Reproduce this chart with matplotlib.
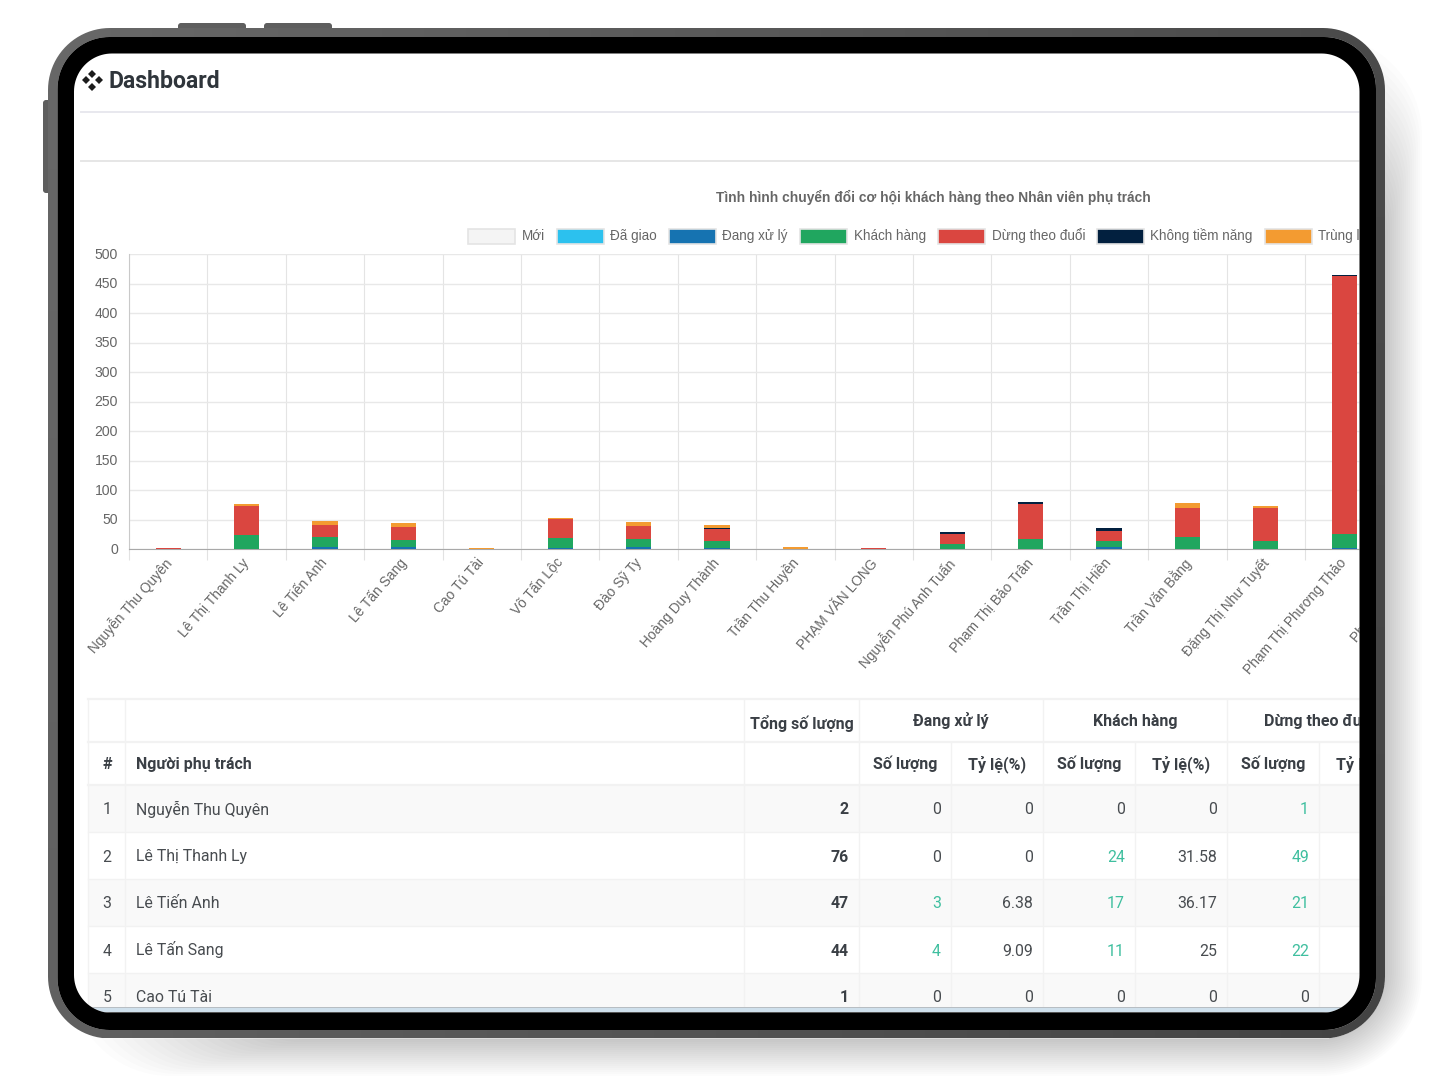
import numpy as np
import matplotlib
matplotlib.use("Agg")
import matplotlib.pyplot as plt
from matplotlib.colors import LinearSegmentedColormap
from matplotlib.patches import PathPatch, Rectangle
from matplotlib.path import Path
from matplotlib.transforms import ScaledTranslation

# Chart data
names = ["Nguyễn Thu Quyên", "Lê Thị Thanh Ly", "Lê Tiến Anh", "Lê Tấn Sang", "Cao Tú Tài",
         "Võ Tấn Lộc", "Đào Sỹ Ty", "Hoàng Duy Thành", "Trần Thu Huyền", "PHẠM VĂN LONG",
         "Nguyễn Phú Anh Tuấn", "Phạm Thị Bảo Trân", "Trần Thị Hiền", "Trần Văn Bằng",
         "Đặng Thị Như Tuyết", "Phạm Thị Phương Thảo", "Phạm Thị Hương"]
series_names = ["Mới", "Đã giao", "Đang xử lý", "Khách hàng", "Dừng theo đuổi", "Không tiềm năng", "Trùng lặp"]
series_colors = ["#f4f4f4", "#2cc1ee", "#1673b1", "#20a65f", "#da4640", "#02203f", "#f39b31"]
moi = [0] * 17
da_giao = [0] * 17
dang_xu_ly = [0, 0, 3, 4, 0, 2, 4, 1, 0, 0, 0, 0, 3, 0, 0, 1, 0]
khach_hang = [0, 24, 17, 11, 0, 17, 13, 12, 0, 0, 9, 17, 10, 20, 13, 24, 0]
dung_theo_duoi = [1, 49, 21, 22, 0, 32, 22, 21, 0, 1, 16, 59, 18, 49, 57, 437, 0]
khong_tiem_nang = [0, 0, 0, 0, 0, 0, 0, 2, 0, 0, 3, 3, 5, 0, 0, 2, 0]
trung = [1, 3, 6, 7, 1, 2, 6, 5, 3, 0, 1, 0, 0, 9, 3, 0, 0]
series_values = [moi, da_giao, dang_xu_ly, khach_hang, dung_theo_duoi, khong_tiem_nang, trung]
y_ticks = [0, 50, 100, 150, 200, 250, 300, 350, 400, 450, 500]

# Table data
table_names = ["Nguyễn Thu Quyên", "Lê Thị Thanh Ly", "Lê Tiến Anh", "Lê Tấn Sang", "Cao Tú Tài"]
table_total = ["2", "76", "47", "44", "1"]
table_xl_sl = ["0", "0", "3", "4", "0"]
table_xl_tl = ["0", "0", "6.38", "9.09", "0"]
table_kh_sl = ["0", "24", "17", "11", "0"]
table_kh_tl = ["0", "31.58", "36.17", "25", "0"]
table_dt_sl = ["1", "49", "21", "22", "0"]


def px(size):
    return size * 0.72


def round_rect(x0, y0, x1, y1, r, n=24):
    # polygon for a rounded rectangle
    t = np.linspace(0, np.pi / 2, n)
    pts = []
    for cx, cy, start in [(x0 + r, y0 + r, np.pi), (x1 - r, y0 + r, 1.5 * np.pi),
                          (x1 - r, y1 - r, 0), (x0 + r, y1 - r, 0.5 * np.pi)]:
        pts.append(np.column_stack([cx + r * np.cos(start + t), cy + r * np.sin(start + t)]))
    pts = np.vstack(pts)
    return np.vstack([pts, pts[0]])


def with_hole(outer, inner):
    return Path(np.vstack([outer, inner[::-1]]),
                [Path.MOVETO] + [Path.LINETO] * (len(outer) - 1) + [Path.MOVETO] + [Path.LINETO] * (len(inner) - 1))


W, H = 1436, 1080
fig = plt.figure(figsize=(W / 100, H / 100), dpi=100, facecolor="white")

# Page content, in pixel coordinates
page = fig.add_axes([0, 0, 1, 1], zorder=1)
page.set_xlim(0, W)
page.set_ylim(H, 0)
page.axis("off")
page.add_patch(Rectangle((0, 0), W, H, fc="white", ec="none"))

sans = "Liberation Sans"
rob = "Roboto"
page.plot([92, 98.5, 92, 85.5], [73.5, 80, 86.5, 80], ls="none", marker="D", ms=4.1, color="#1c1c1c", mew=0)
page.text(108, 88.5, "Dashboard", fontsize=px(23), family=rob, weight="bold", color="#2f353b", va="baseline")
page.plot([81, 1360], [111.5, 111.5], color="#e8e8ee", lw=1.4)
page.plot([81, 1360], [160.8, 160.8], color="#e6e6e6", lw=1.4)
page.text(933.5, 202, "Tình hình chuyển đổi cơ hội khách hàng theo Nhân viên phụ trách", fontsize=px(13.75),
          family=sans, weight="bold", color="#666666", ha="center", va="baseline")

# Legend
legend_x = [468, 557, 669, 800, 938, 1097, 1265]
for x, name, col in zip(legend_x, series_names, series_colors):
    page.add_patch(Rectangle((x, 228.5), 47, 15, fc=col, ec="#e4e4e4", lw=1.2))
    page.text(x + 53.5, 240, name, fontsize=px(13.5), family=sans, color="#666666", va="baseline")

# Table
col_x = [88, 125, 744, 859, 951, 1043, 1135, 1227, 1319, 1411]
row_y = [699, 742, 785, 832, 879, 926, 973, 1020]
line_col = "#f2f2f2"
for i in [0, 2, 4]:
    page.add_patch(Rectangle((88, row_y[i + 2]), 1330, row_y[i + 3] - row_y[i + 2], fc="#f9f9f9", ec="none"))
for y in row_y[:-1]:
    page.plot([88, 1411], [y, y], color=line_col, lw=1.6 if y in (699, 742, 785) else 1.0)
for x in col_x:
    if x in (951, 1135, 1319):
        page.plot([x, x], [742, 1020], color=line_col, lw=1.0)
    else:
        page.plot([x, x], [699, 1020], color=line_col, lw=1.0)

head = "#3a3f45"
body = "#484c50"
teal = "#3fbf9f"
for cx, cy, label in [(801.5, 728.5, "Tổng số lượng"), (951, 726, "Đang xử lý"), (1135, 726, "Khách hàng"),
                      (1319, 726, "Dừng theo đuổi"), (107, 769, "#"),
                      (905, 769, "Số lượng"), (997, 769, "Tỷ lệ(%)"), (1089, 769, "Số lượng"),
                      (1181, 769, "Tỷ lệ(%)"), (1273, 769, "Số lượng"), (1365, 769, "Tỷ lệ(%)")]:
    page.text(cx, cy, label, fontsize=px(16), family=rob, weight="bold", color=head, ha="center", va="baseline")
page.text(136, 769, "Người phụ trách", fontsize=px(16), family=rob, weight="bold", color=head, va="baseline")

rows_base = [814.5, 861.5, 908.5, 955.5, 1002.5]
for i, y in enumerate(rows_base):
    page.text(107, y, str(i + 1), fontsize=px(15.9), family=rob, color=body, ha="center", va="baseline")
    page.text(136, y, table_names[i], fontsize=px(15.9), family=rob, color=body, va="baseline")
    page.text(849, y, table_total[i], fontsize=px(15.9), family=rob, weight="bold", color=head, ha="right", va="baseline")
    for x, col, link in [(941, table_xl_sl, True), (1033, table_xl_tl, False), (1125, table_kh_sl, True),
                         (1217, table_kh_tl, False), (1309, table_dt_sl, True)]:
        c = teal if link and col[i] != "0" else body
        page.text(x, y, col[i], fontsize=px(15.9), family=rob, color=c, ha="right", va="baseline")

# scrollbar strip at the bottom of the screen
page.add_patch(Rectangle((74, 1006.5), 1286, 1.6, fc="#b8bec3", ec="none", zorder=5))
page.add_patch(Rectangle((74, 1008), 1286, 3.6, fc="#cfe0ec", ec="none", zorder=5))
page.add_patch(Rectangle((74, 1011.6), 1286, 2, fc="#555555", ec="none", zorder=5))

# Stacked bar chart
cat_w = 78.4
ax = fig.add_axes([129 / W, (H - 549) / H, cat_w * 17 / W, 295 / H], zorder=2)
ax.patch.set_alpha(0)
x = np.arange(len(names))
bottom = np.zeros(len(names))
for values, col in zip(series_values, series_colors):
    ax.bar(x, values, width=0.32, bottom=bottom, color=col, zorder=3)
    bottom += np.array(values)
ax.set_xlim(-0.5, 16.5)
ax.set_ylim(0, 500)
ax.set_yticks(y_ticks)
ax.set_yticklabels([str(v) for v in y_ticks], family=sans, fontsize=px(14), color="#666666")
ax.set_xticks(x)
ax.set_xticklabels(names, rotation=49, ha="right", va="top", rotation_mode="anchor",
                   family=sans, fontsize=px(13.8), color="#666666")
ax.set_xticks(np.arange(-0.5, 17), minor=True)
ax.tick_params(axis="x", which="major", length=0, pad=7)
ax.tick_params(axis="x", which="minor", length=8, color="#e2e2e2", width=0.8)
ax.tick_params(axis="y", length=0, pad=8)
# nudge the labels after tick_params, which resets their transforms
x_shift = ScaledTranslation(-5 / 100, 3 / 100, fig.dpi_scale_trans)
for label in ax.get_xticklabels():
    label.set_transform(label.get_transform() + x_shift)
y_shift = ScaledTranslation(0, 0.7 / 100, fig.dpi_scale_trans)
for label in ax.get_yticklabels():
    label.set_transform(label.get_transform() + y_shift)
ax.grid(True, axis="y", color="#e8e8e8", lw=1, zorder=0)
ax.grid(True, axis="x", which="minor", color="#e4e4e4", lw=0.8, zorder=0)
ax.grid(False, axis="x", which="major")
ax.set_axisbelow(True)
for side in ["top", "right"]:
    ax.spines[side].set_visible(False)
ax.spines["left"].set_color("#c9c9c9")
ax.spines["bottom"].set_color("#a8a8a8")

# Tablet frame on top of everything
over = fig.add_axes([0, 0, 1, 1], zorder=3)
over.set_xlim(0, W)
over.set_ylim(H, 0)
over.axis("off")
over.patch.set_alpha(0)

screen = round_rect(74, 53.5, 1359.5, 1013, 38)
outer = round_rect(48, 28, 1385, 1038.5, 62)
black = round_rect(57.5, 37, 1376, 1030, 52)
page_rect = np.array([[0, 0], [W, 0], [W, H], [0, H], [0, 0]], float)

over.add_patch(PathPatch(with_hole(page_rect, screen), fc="white", ec="none", zorder=1))

# soft shadow, bottom and right of the device
shadow_clip = PathPatch(with_hole(page_rect, outer), transform=over.transData)
for t in np.linspace(0, 1, 26):
    s = PathPatch(Path(round_rect(300 - 230 * t, 220 - 185 * t, 1372 + 50 * t, 1026 + 50 * t, 60 + 40 * t)),
                  fc="black", ec="none", alpha=0.0105, zorder=2)
    over.add_patch(s)
    s.set_clip_path(shadow_clip)

for bx0, by0, bx1, by1 in [(178, 23, 246, 34), (264, 23, 332, 34), (43, 100, 54, 193)]:
    over.add_patch(PathPatch(Path(round_rect(bx0, by0, bx1, by1, 3)), fc="#5e5e5e", ec="none", zorder=3))

# frame ring with a left to right gradient
ring = PathPatch(with_hole(outer, black), fc="none", ec="none", transform=over.transData)
over.add_patch(ring)
gx, gy = np.meshgrid(np.linspace(0, 1, 64), np.linspace(0, 1, 64))
frame_cmap = LinearSegmentedColormap.from_list("frame", ["#686868", "#434343"])
im = over.imshow(0.8 * gx + 0.2 * gy, extent=(48, 1385, 1038.5, 28), origin="upper", cmap=frame_cmap,
                 vmin=0, vmax=1, aspect="auto", zorder=4)
im.set_clip_path(ring)
over.set_xlim(0, W)
over.set_ylim(H, 0)
over.add_patch(PathPatch(with_hole(black, screen), fc="black", ec="none", zorder=5))

fig.savefig("out.png", dpi=100)
